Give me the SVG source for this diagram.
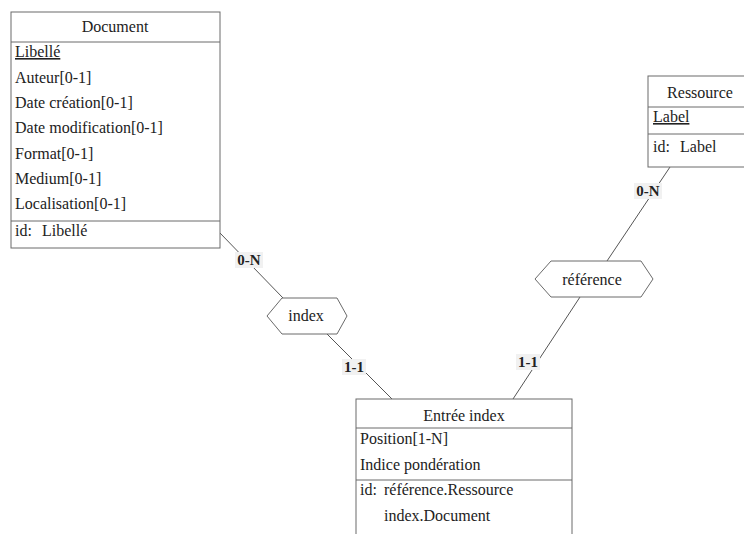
<svg xmlns="http://www.w3.org/2000/svg" width="744" height="534" viewBox="0 0 744 534">
  <style>
    .box { fill: #ffffff; stroke: #6a6a6a; stroke-width: 1; }
    .sep { stroke: #6a6a6a; stroke-width: 1; }
    .rel { fill: #ffffff; stroke: #6a6a6a; stroke-width: 1; }
    .link { stroke: #555555; stroke-width: 1; fill: none; }
    .t { font-family: "Liberation Serif", "Times New Roman", serif; font-size: 16px; fill: #222222; }
    .title { text-anchor: middle; }
    .card { font-family: "Liberation Serif", "Times New Roman", serif; font-size: 15px; fill: #222222; text-anchor: middle; font-weight: bold; }
    .cardbg { fill: #f1f1f1; }
  </style>
  <rect width="744" height="534" fill="#ffffff"/>

  <!-- connectors -->
  <g id="connectors">
    <line class="link" x1="220" y1="233" x2="283" y2="298"/>
    <line class="link" x1="327" y1="334" x2="392" y2="399"/>
    <line class="link" x1="670" y1="167" x2="607" y2="261"/>
    <line class="link" x1="580" y1="297" x2="513" y2="399"/>
    <rect class="cardbg" x="235" y="252" width="28" height="16"/>
    <text class="card" x="249" y="265">0-N</text>
    <rect class="cardbg" x="342" y="359" width="24" height="16"/>
    <text class="card" x="354" y="372">1-1</text>
    <rect class="cardbg" x="634" y="183" width="28" height="16"/>
    <text class="card" x="648" y="196">0-N</text>
    <rect class="cardbg" x="516" y="354" width="24" height="16"/>
    <text class="card" x="528" y="367">1-1</text>
  </g>

  <!-- entity Document -->
  <g id="document">
    <rect class="box" x="11" y="12" width="209" height="236"/>
    <line class="sep" x1="11" y1="42" x2="220" y2="42"/>
    <line class="sep" x1="11" y1="221" x2="220" y2="221"/>
    <text class="t title" x="115" y="32">Document</text>
    <text class="t" x="15" y="57" text-decoration="underline">Libellé</text>
    <text class="t" x="15" y="83">Auteur[0-1]</text>
    <text class="t" x="15" y="108">Date création[0-1]</text>
    <text class="t" x="15" y="133">Date modification[0-1]</text>
    <text class="t" x="15" y="159">Format[0-1]</text>
    <text class="t" x="15" y="184">Medium[0-1]</text>
    <text class="t" x="15" y="209">Localisation[0-1]</text>
    <text class="t" x="15" y="236">id:</text>
    <text class="t" x="42" y="236">Libellé</text>
  </g>

  <!-- entity Ressource -->
  <g id="ressource">
    <rect class="box" x="648" y="76" width="104" height="91"/>
    <line class="sep" x1="648" y1="107" x2="752" y2="107"/>
    <line class="sep" x1="648" y1="134" x2="752" y2="134"/>
    <text class="t title" x="700" y="98">Ressource</text>
    <text class="t" x="653" y="122" text-decoration="underline">Label</text>
    <text class="t" x="653" y="152">id:</text>
    <text class="t" x="680" y="152">Label</text>
  </g>

  <!-- relationship index -->
  <g id="index">
    <polygon class="rel" points="267,316 282,298 337,298 347,316 337,334 282,334"/>
    <text class="t title" x="306" y="321">index</text>
  </g>

  <!-- relationship référence -->
  <g id="reference">
    <polygon class="rel" points="535,279 551,261 641,261 653,279 641,297 551,297"/>
    <text class="t title" x="592" y="285">référence</text>
  </g>

  <!-- entity Entrée index -->
  <g id="entree-index">
    <rect class="box" x="356" y="399" width="216" height="140"/>
    <line class="sep" x1="356" y1="428" x2="572" y2="428"/>
    <line class="sep" x1="356" y1="480" x2="572" y2="480"/>
    <text class="t title" x="464" y="421">Entrée index</text>
    <text class="t" x="360" y="444">Position[1-N]</text>
    <text class="t" x="360" y="470">Indice pondération</text>
    <text class="t" x="360" y="495">id:</text>
    <text class="t" x="384" y="495">référence.Ressource</text>
    <text class="t" x="384" y="521">index.Document</text>
  </g>
</svg>
